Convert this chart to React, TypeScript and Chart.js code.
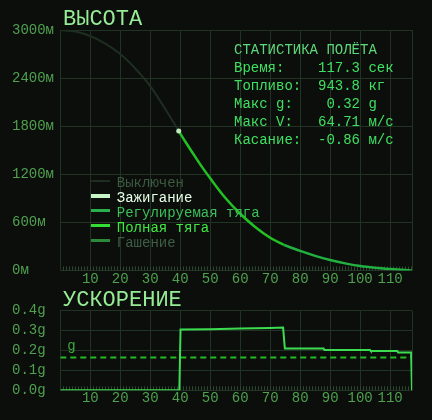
import React, { useEffect, useRef } from 'react';
import { Chart, registerables } from 'chart.js';

Chart.register(...registerables);

const FONT = '"Liberation Mono", "DejaVu Sans Mono", monospace';
const BG = '#0c0e0c';
const GRID = '#213324';
const MINOR = '#2f4632';
const TICK_TEXT = '#4fa04f';

// ---- data: altitude by engine phase (time s, altitude m)
const offTime = [0, 5, 10, 15, 20, 25, 30, 35, 39.5];
const offAlt = [3000, 2980, 2925, 2830, 2700, 2520, 2300, 2015, 1740];
const ignitionTime = [39.5];
const ignitionAlt = [1740];
const fullTime = [39.5, 42, 44, 47, 50, 55, 60, 65, 70, 74.6];
const fullAlt = [1740, 1590, 1475, 1305, 1150, 907, 708, 543, 408, 318];
const regTime = [74.6, 80, 85, 90, 95, 100, 105, 110, 115, 116.8];
const regAlt = [318, 244, 183, 131, 89, 57, 35, 19, 6, 2];
const cutTime = [116.8, 117.3];
const cutAlt = [2, 0];

// ---- data: acceleration (time s, g)
const accTime = [0, 39.7, 40.1, 50, 60, 70, 74.3, 74.9, 87.8, 88.1, 103.3, 103.6, 112.4, 112.7, 117.0, 117.3];
const accG = [0, 0, 0.305, 0.307, 0.31, 0.313, 0.315, 0.21, 0.21, 0.202, 0.202, 0.197, 0.197, 0.19, 0.19, 0];
const gravityG = 0.165;
const T_MAX = 117.3;

// ---- axis ticks
const timeTicks = [0, 10, 20, 30, 40, 50, 60, 70, 80, 90, 100, 110, T_MAX];
const altMax = 3000;
const altStep = 600;
const accMax = 0.4;
const accStep = 0.1;
const minorStep = 1;

// ---- legend
const phaseNames = ['Выключен', 'Зажигание', 'Регулируемая тяга', 'Полная тяга', 'Гашение'];
const phaseLineColors = ['#1e2e20', '#c8f5c8', '#2ab04a', '#33dd33', '#2a8a3a'];
const phaseTextColors = ['#3b5a3f', '#e8ffe8', '#3cbf5a', '#40e840', '#3d5e44'];
const phaseLineWidths = [2, 4, 2.5, 2.5, 2.5];

// ---- stats
const statsTitle = 'СТАТИСТИКА ПОЛЁТА';
const statLabels = ['Время:', 'Топливо:', 'Макс g:', 'Макс V:', 'Касание:'];
const statValues = ['117.3', '943.8', '0.32', '64.71', '-0.86'];
const statUnits = ['сек', 'кг', 'g', 'м/с', 'м/с'];

const pts = (xs: number[], ys: number[]) => xs.map((x, i) => ({ x, y: ys[i] }));

const minorTickPlugin = {
  id: 'minorTicks',
  beforeDatasetsDraw(chart: any) {
    const { ctx, chartArea, scales } = chart;
    const xs = scales.x;
    ctx.save();
    ctx.strokeStyle = MINOR;
    ctx.lineWidth = 1;
    ctx.beginPath();
    for (let t = minorStep; t < xs.max; t += minorStep) {
      const px = Math.round(xs.getPixelForValue(t)) + 0.5;
      ctx.moveTo(px, chartArea.bottom - 4);
      ctx.lineTo(px, chartArea.bottom);
    }
    ctx.stroke();
    ctx.restore();
  },
};

const gLabelPlugin = {
  id: 'gLabel',
  afterDraw(chart: any) {
    const { ctx, chartArea, scales } = chart;
    const y = scales.y.getPixelForValue(gravityG);
    ctx.save();
    ctx.fillStyle = '#3caa3c';
    ctx.font = `14px ${FONT}`;
    ctx.textBaseline = 'alphabetic';
    ctx.textAlign = 'left';
    ctx.fillText('g', chartArea.left + 7, y - 7);
    ctx.restore();
  },
};

const xAxis = (height: number) => ({
  type: 'linear',
  min: 0,
  max: T_MAX,
  afterFit: (s: any) => {
    s.height = height;
  },
  afterBuildTicks: (s: any) => {
    s.ticks = timeTicks.map((value) => ({ value }));
  },
  ticks: {
    autoSkip: false,
    maxRotation: 0,
    padding: 0,
    color: TICK_TEXT,
    font: { family: FONT, size: 14 },
    callback: (v: any) => (v > 0 && v % 10 === 0 ? String(v) : ''),
  },
  grid: { color: GRID, drawTicks: false },
  border: { color: GRID },
});

const yAxis = (max: number, step: number, fmt: (v: number) => string) => ({
  min: 0,
  max,
  afterFit: (s: any) => {
    s.width = 48.3;
  },
  ticks: {
    stepSize: step,
    autoSkip: false,
    crossAlign: 'far',
    padding: 0,
    color: TICK_TEXT,
    font: { family: FONT, size: 14 },
    callback: (v: any) => fmt(Number(v)),
  },
  grid: { color: GRID, drawTicks: false },
  border: { color: GRID },
});

export default function App() {
  const topRef = useRef<HTMLCanvasElement>(null);
  const botRef = useRef<HTMLCanvasElement>(null);

  useEffect(() => {
    document.body.style.background = BG;
    const line = (label: string, data: any, color: string, width: number) => ({
      label,
      data,
      borderColor: color,
      backgroundColor: color,
      borderWidth: width,
      pointRadius: 0,
      cubicInterpolationMode: 'monotone',
      fill: false,
    });
    const top = new Chart(topRef.current as HTMLCanvasElement, {
      type: 'line',
      data: {
        datasets: [
          {
            label: phaseNames[1],
            data: pts(ignitionTime, ignitionAlt),
            showLine: false,
            pointRadius: 2.5,
            pointBorderWidth: 0,
            pointBackgroundColor: '#bfe8bf',
            borderColor: '#bfe8bf',
          } as any,
          line(phaseNames[0], pts(offTime, offAlt), '#1e2e20', 2),
          line(phaseNames[3], pts(fullTime, fullAlt), '#22c022', 2.5),
          line(phaseNames[2], pts(regTime, regAlt), '#22b040', 2.5),
          line(phaseNames[4], pts(cutTime, cutAlt), '#2a8a3a', 2.5),
        ],
      },
      options: {
        animation: false,
        responsive: true,
        maintainAspectRatio: false,
        layout: { padding: { left: 4, top: 22, right: 12, bottom: 0 } },
        plugins: { legend: { display: false }, tooltip: { enabled: false } },
        scales: {
          x: xAxis(17.5) as any,
          y: yAxis(altMax, altStep, (v) => `${v}м`) as any,
        },
      },
      plugins: [minorTickPlugin],
    });

    const bot = new Chart(botRef.current as HTMLCanvasElement, {
      type: 'line',
      data: {
        datasets: [
          {
            label: 'Ускорение',
            data: pts(accTime, accG),
            borderColor: '#3cdc50',
            borderWidth: 2,
            pointRadius: 0,
            tension: 0,
            fill: false,
          },
          {
            label: 'g',
            data: pts([0, T_MAX], [gravityG, gravityG]),
            borderColor: '#22bb22',
            borderWidth: 2,
            borderDash: [6, 4],
            pointRadius: 0,
            fill: false,
          },
        ],
      },
      options: {
        animation: false,
        responsive: true,
        maintainAspectRatio: false,
        layout: { padding: { left: 4, top: 12.7, right: 12, bottom: 0 } },
        plugins: { legend: { display: false }, tooltip: { enabled: false } },
        scales: {
          x: xAxis(19.7) as any,
          y: yAxis(accMax, accStep, (v) => `${v.toFixed(1)}g`) as any,
        },
      },
      plugins: [minorTickPlugin, gLabelPlugin],
    });
    return () => {
      top.destroy();
      bot.destroy();
    };
  }, []);

  const titleStyle: React.CSSProperties = {
    position: 'absolute',
    left: 55,
    font: `22px ${FONT}`,
    lineHeight: '22px',
    color: '#96eb96',
    whiteSpace: 'pre',
  };

  return (
    <div style={{ position: 'relative', width: 416, height: 404, background: BG, fontFamily: FONT }}>
      <div style={{ position: 'absolute', left: 0, top: 0, width: 416, height: 280 }}>
        <canvas ref={topRef} />
      </div>
      <div style={{ position: 'absolute', left: 0, top: 290, width: 416, height: 112 }}>
        <canvas ref={botRef} />
      </div>
      <div style={{ ...titleStyle, top: 1.3 }}>ВЫСОТА</div>
      <div style={{ ...titleStyle, top: 282 }}>УСКОРЕНИЕ</div>
      <div
        style={{
          position: 'absolute',
          left: 226,
          top: 32.5,
          font: `14px ${FONT}`,
          lineHeight: '18px',
          whiteSpace: 'pre',
        }}
      >
        <div style={{ color: '#5fd87a' }}>{statsTitle}</div>
        {statLabels.map((l, i) => (
          <div key={l} style={{ color: '#3fe060' }}>
            {l.padEnd(10) + statValues[i].padStart(5) + ' ' + statUnits[i]}
          </div>
        ))}
      </div>
      {phaseNames.map((name, i) => (
        <div
          key={name}
          style={{ position: 'absolute', left: 82.7, top: 166.5 + 15 * i, height: 16, width: 200 }}
        >
          <span
            style={{
              position: 'absolute',
              left: 0,
              top: 6.2 - phaseLineWidths[i] / 2,
              width: 19.5,
              height: phaseLineWidths[i],
              background: phaseLineColors[i],
            }}
          />
          <span
            style={{
              position: 'absolute',
              left: 26.1,
              top: 0,
              font: `14px ${FONT}`,
              lineHeight: '16px',
              color: phaseTextColors[i],
              whiteSpace: 'pre',
            }}
          >
            {name}
          </span>
        </div>
      ))}
    </div>
  );
}
